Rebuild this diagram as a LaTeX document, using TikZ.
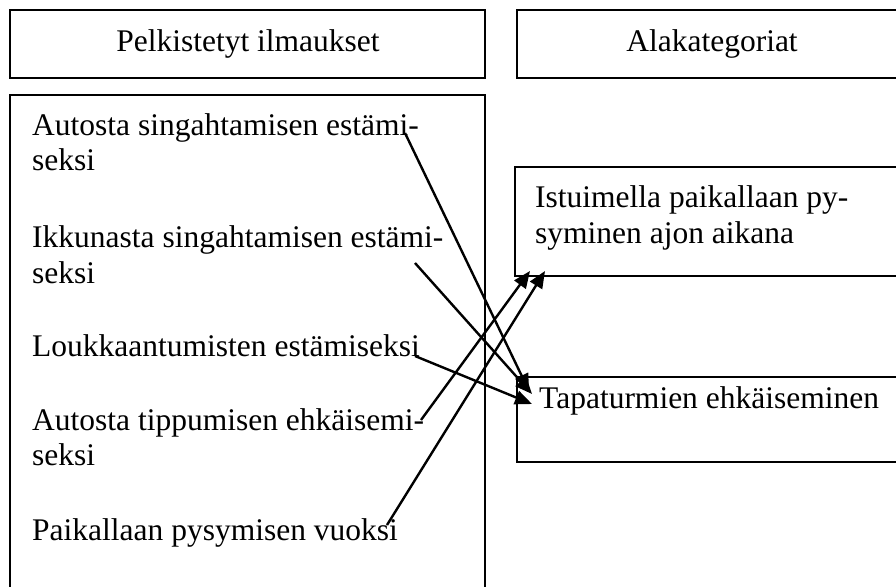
\documentclass[tikz,border=0pt]{standalone}
\usepackage{fontspec}
\setmainfont{Liberation Serif}
\usetikzlibrary{arrows.meta}
\begin{document}
\begin{tikzpicture}[x=1pt,y=-1pt,
  box/.style={draw=black,line width=2.2pt},
  txt/.style={inner sep=0pt,anchor=base west,font=\fontsize{31.5}{36}\selectfont},
  htxt/.style={inner sep=0pt,anchor=base,font=\fontsize{31.5}{36}\selectfont},
  conn/.style={line width=2.4pt,-{Triangle[length=17pt,width=14pt]}}]
\useasboundingbox (0,0) rectangle (896,586);
\clip (0,0) rectangle (896,586);
% boxes
\draw[box] (10,10) rectangle (485,78);
\draw[box] (517,10) rectangle (910,78);
\draw[box] (10,95) rectangle (485,610);
\draw[box] (515,167) rectangle (910,276);
\draw[box] (517,377) rectangle (910,462);
% headers
\node[htxt] (h1) at (248,52) {Pelkistetyt ilmaukset};
\node[htxt] (h2) at (712,52) {Alakategoriat};
% left texts
\node[txt] (a1) at (32,135) {Autosta singahtamisen estämi-};
\node[txt] (a1b) at (32,170) {seksi};
\node[txt] (a2) at (32,247) {Ikkunasta singahtamisen estämi-};
\node[txt] (a2b) at (32,283) {seksi};
\node[txt] (a3) at (32,356) {Loukkaantumisten estämiseksi};
\node[txt] (a4) at (32,430) {Autosta tippumisen ehkäisemi-};
\node[txt] (a4b) at (32,465) {seksi};
\node[txt] (a5) at (32,540) {Paikallaan pysymisen vuoksi};
% right texts
\node[txt] (b1) at (535,207) {Istuimella paikallaan py-};
\node[txt] (b1b) at (535,243) {syminen ajon aikana};
\node[txt] (b2) at (539,408) {Tapaturmien ehkäiseminen};
% connector ends
\coordinate (s1) at (405,133);
\coordinate (s2) at (415,263);
\coordinate (s3) at (415,356);
\coordinate (s4) at (421,420);
\coordinate (s5) at (387,525);
\coordinate (e1) at (529,391);
\coordinate (e2) at (532,394);
\coordinate (e3) at (532,404);
\coordinate (e4) at (530,271);
\coordinate (e5) at (545,271);
\draw[conn] (s1) -- (e1);
\draw[conn] (s2) -- (e2);
\draw[conn] (s3) -- (e3);
\draw[conn] (s4) -- (e4);
\draw[conn] (s5) -- (e5);
\end{tikzpicture}
\end{document}
